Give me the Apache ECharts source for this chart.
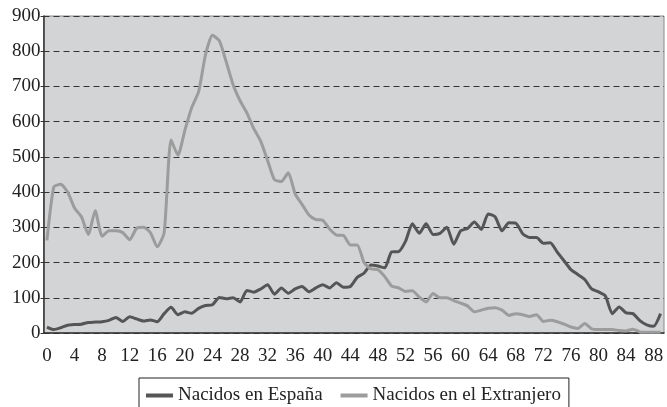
<!DOCTYPE html>
<html lang="es">
<head>
    <meta charset="UTF-8">
    <title>Nacidos en España / en el Extranjero</title>
    <script src="https://cdn.jsdelivr.net/npm/echarts@6/dist/echarts.min.js"></script>
    <style>
      html, body { margin:0; padding:0; background:#fff; }
    </style>
</head>
<body>
<div id="main" style="width: 667px;height:407px;"></div>
<script>
// edades 0..89
var edades = [];
for (var i = 0; i < 90; i++) { edades.push(String(i)); }

// Nacidos en España
var espana = [17, 10, 15, 22, 24, 25, 30, 31, 32, 36,
              44, 33, 46, 40, 34, 37, 32, 55, 73, 52,
              60, 56, 70, 78, 80, 101, 97, 100, 88, 121,
              116, 125, 137, 110, 128, 113, 125, 132, 117, 128,
              137, 128, 143, 130, 132, 158, 170, 193, 190, 185,
              230, 231, 260, 310, 283, 310, 280, 283, 300, 252,
              290, 297, 315, 294, 338, 330, 290, 313, 312, 282,
              271, 271, 255, 256, 230, 205, 180, 166, 152, 125,
              117, 105, 55, 74, 57, 55, 35, 23, 19, 55];

// Nacidos en el Extranjero
var extranjero = [263, 415, 422, 400, 355, 330, 280, 347, 275, 290,
                  290, 285, 265, 297, 300, 285, 245, 285, 548, 505,
                  575, 640, 685, 790, 845, 830, 770, 705, 660, 625,
                  580, 545, 490, 435, 430, 455, 395, 365, 335, 322,
                  320, 295, 278, 277, 250, 250, 200, 182, 180, 160,
                  133, 128, 118, 120, 102, 88, 112, 100, 100, 92,
                  85, 77, 60, 65, 70, 72, 65, 50, 55, 52,
                  47, 52, 33, 36, 32, 25, 17, 13, 27, 12,
                  10, 10, 10, 7, 6, 11, 3, 2, 2, 2];

var nombres = ['Nacidos en España', 'Nacidos en el Extranjero'];

var myChart = echarts.init(document.getElementById('main'));
var fuente = 'Liberation Serif';

var option = {
  animation: false,
  textStyle: { fontFamily: fuente },
  grid: {
    left: 43.5, right: 3, top: 16, bottom: 74,
    show: true,
    backgroundColor: '#d3d4d6',
    borderColor: '#8a8a8a',
    borderWidth: 1
  },
  legend: {
    data: nombres,
    left: 139,
    top: 378,
    padding: [8, 8, 12, 7],
    borderColor: '#222',
    borderWidth: 1,
    itemWidth: 27,
    itemHeight: 4,
    itemGap: 18,
    icon: 'rect',
    textStyle: { fontFamily: fuente, fontSize: 19, color: '#222' }
  },
  xAxis: {
    type: 'category',
    data: edades,
    boundaryGap: true,
    axisLine: { lineStyle: { color: '#333', width: 1.5 } },
    axisTick: { interval: 0, length: 4, lineStyle: { color: '#333' } },
    axisLabel: { interval: 3, margin: 14, fontSize: 19, color: '#222', fontFamily: fuente },
    splitLine: { show: false }
  },
  yAxis: {
    type: 'value',
    min: 0, max: 900, interval: 100,
    axisLine: { show: true, lineStyle: { color: '#333', width: 1.5 } },
    axisTick: { show: true, length: 3, lineStyle: { color: '#333' } },
    axisLabel: { margin: 3, fontSize: 19, color: '#222', fontFamily: fuente },
    splitLine: { lineStyle: { color: '#333', type: [6, 4], width: 1.2 } }
  },
  series: [
    {
      name: nombres[0],
      type: 'line',
      data: espana,
      showSymbol: false,
      smooth: 0.2,
      color: '#555555',
      lineStyle: { width: 3, color: '#555555' }
    },
    {
      name: nombres[1],
      type: 'line',
      data: extranjero,
      showSymbol: false,
      smooth: 0.2,
      color: '#9c9c9c',
      lineStyle: { width: 3, color: '#9c9c9c' }
    }
  ]
};
myChart.setOption(option);
</script>
</body>
</html>
